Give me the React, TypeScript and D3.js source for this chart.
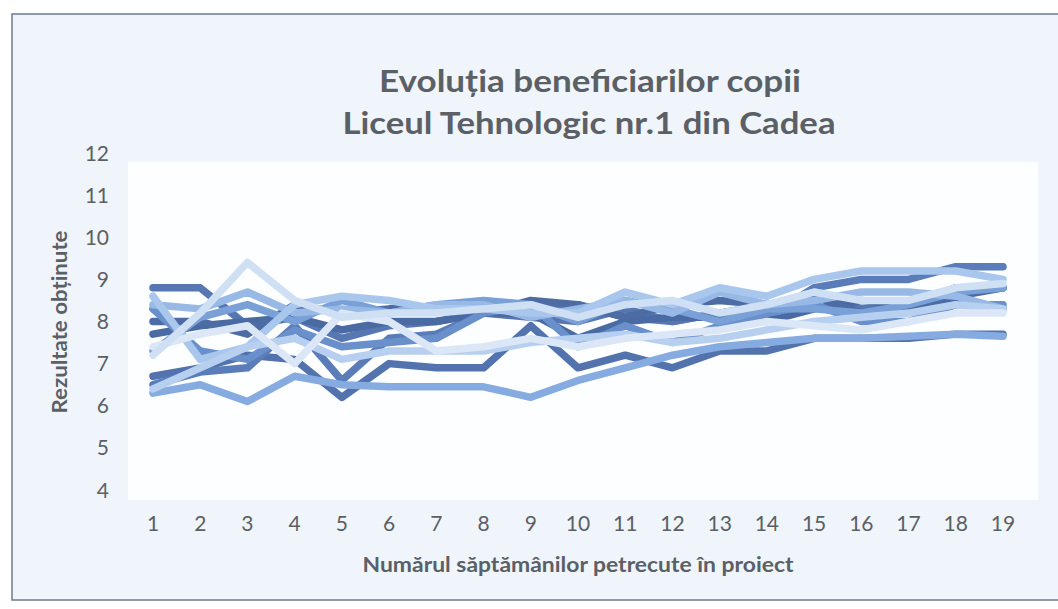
import React from 'react';
import * as d3 from 'd3';

// Weeks spent in the project
const weeks = d3.range(1, 20);
const yTicks = [4, 5, 6, 7, 8, 9, 10, 11, 12];

// One row per child (approximate)
const s1 = [8.8, 8.8, 7.9, 8.1, 7.6, 7.9, 8.0, 8.2, 8.1, 8.0, 8.3, 8.0, 8.2, 8.4, 8.6, 8.3, 8.4, 8.8, 8.8];
const s2 = [7.2, 8.2, 9.4, 8.5, 8.1, 8.2, 8.2, 8.3, 8.4, 8.1, 8.4, 8.5, 8.2, 8.4, 8.7, 8.5, 8.5, 8.8, 8.9];
const s3 = [8.6, 7.1, 7.4, 8.4, 8.6, 8.5, 8.3, 8.3, 8.2, 8.2, 8.7, 8.4, 8.8, 8.6, 9.0, 9.2, 9.2, 9.2, 9.0];
const s4 = [7.7, 7.9, 8.0, 8.1, 7.8, 8.0, 8.0, 8.2, 8.2, 7.6, 8.0, 8.1, 8.1, 8.0, 8.3, 8.5, 8.4, 8.5, 8.3];
const s5 = [8.3, 7.3, 7.1, 7.8, 7.4, 7.5, 7.6, 8.2, 8.4, 7.4, 7.9, 7.5, 7.9, 8.2, 8.4, 8.0, 8.0, 8.4, 8.4];
const s6 = [6.7, 6.9, 7.2, 7.1, 6.2, 7.0, 6.9, 6.9, 7.9, 6.9, 7.2, 6.9, 7.3, 7.3, 7.6, 7.6, 7.6, 7.7, 7.7];
const s7 = [6.3, 6.5, 6.1, 6.7, 6.5, 6.45, 6.45, 6.45, 6.2, 6.6, 6.9, 7.2, 7.4, 7.5, 7.6, 7.6, 7.65, 7.7, 7.65];
const s8 = [6.5, 6.8, 6.9, 7.9, 6.6, 7.6, 7.7, 8.2, 8.3, 8.4, 8.1, 8.0, 8.2, 8.1, 8.8, 9.0, 9.0, 9.3, 9.3];
const s9 = [7.4, 7.7, 7.9, 7.0, 8.2, 8.0, 7.3, 7.4, 7.6, 7.4, 7.6, 7.7, 7.8, 8.0, 7.9, 7.8, 8.0, 8.2, 8.2];
const s10 = [8.4, 8.3, 8.7, 8.2, 8.3, 8.2, 8.4, 8.4, 8.1, 8.3, 8.5, 8.2, 8.7, 8.4, 8.5, 8.7, 8.7, 8.6, 8.3];
const s11 = [7.3, 8.1, 8.4, 8.0, 8.5, 8.2, 8.4, 8.5, 8.4, 8.0, 8.5, 8.3, 8.0, 8.3, 8.3, 8.2, 8.4, 8.7, 8.8];
const s12 = [8.0, 8.0, 7.7, 8.4, 8.2, 8.3, 8.3, 8.2, 8.5, 8.4, 8.1, 8.4, 8.5, 8.4, 8.6, 8.2, 8.3, 8.6, 8.8];
const s13 = [6.4, 6.9, 7.4, 7.6, 7.1, 7.3, 7.3, 7.3, 7.5, 7.6, 7.7, 7.5, 7.6, 7.8, 8.0, 8.1, 8.2, 8.4, 8.3];

const series = [s6, s8, s1, s4, s12, s5, s7, s11, s10, s3, s13, s9, s2];
const colors = ['#5273ad', '#5a7dba', '#5677b2', '#4a6aa3', '#4d6ca4', '#6a90cc', '#86abe0', '#7aa0d8',
  '#98b9e6', '#a9c6ec', '#b8d0f0', '#dbe7f7', '#cfe0f5'];

const W = 1058;
const H = 609;
const textColor = '#5b5f66';
const font = 'Lato, "Open Sans", sans-serif';

export default function App() {
  const x = d3.scalePoint<number>().domain(weeks).range([153, 1003]);
  const y = d3.scaleLinear().domain([4, 12]).range([490, 153]);
  const line = d3.line<number>()
    .x((_, i) => x(weeks[i]) as number)
    .y(d => y(d));

  return (
    <svg width={W} height={H} style={{ position: 'fixed', left: 0, top: 0 }} fontFamily={font}>
      <rect x={0} y={0} width={W} height={H} fill="#ffffff" />
      <rect x={12} y={14} width={W} height={586} fill="#eff5fb" stroke="#6f7b8c" strokeWidth={1.5} />
      <rect x={128} y={162} width={910} height={338} fill="#fdfeff" />

      <text x={590} y={92} textAnchor="middle" fontSize={31} fontWeight={700} fill={textColor}
        textLength={422} lengthAdjust="spacingAndGlyphs">Evoluția beneficiarilor copii</text>
      <text x={589} y={134} textAnchor="middle" fontSize={31} fontWeight={700} fill={textColor}
        textLength={493} lengthAdjust="spacingAndGlyphs">Liceul Tehnologic nr.1 din Cadea</text>

      {yTicks.map(t => (
        <text key={t} x={109} y={y(t) + 7.5} textAnchor="end" fontSize={21} fill={textColor}>{t}</text>
      ))}
      {weeks.map(w => (
        <text key={w} x={x(w)} y={531} textAnchor="middle" fontSize={21} fill={textColor}>{w}</text>
      ))}

      <text transform="translate(67,322) rotate(-90)" textAnchor="middle" fontSize={20} fontWeight={700}
        fill={textColor} textLength={183} lengthAdjust="spacingAndGlyphs">Rezultate obținute</text>
      <text x={578} y={572} textAnchor="middle" fontSize={21} fontWeight={700} fill={textColor}
        textLength={431} lengthAdjust="spacingAndGlyphs">
        Numărul săptămânilor petrecute în proiect
      </text>

      <g fill="none" strokeWidth={7.5} strokeLinejoin="round" strokeLinecap="round">
        {series.map((s, i) => (
          <path key={i} d={line(s) ?? ''} stroke={colors[i]} />
        ))}
      </g>
    </svg>
  );
}
